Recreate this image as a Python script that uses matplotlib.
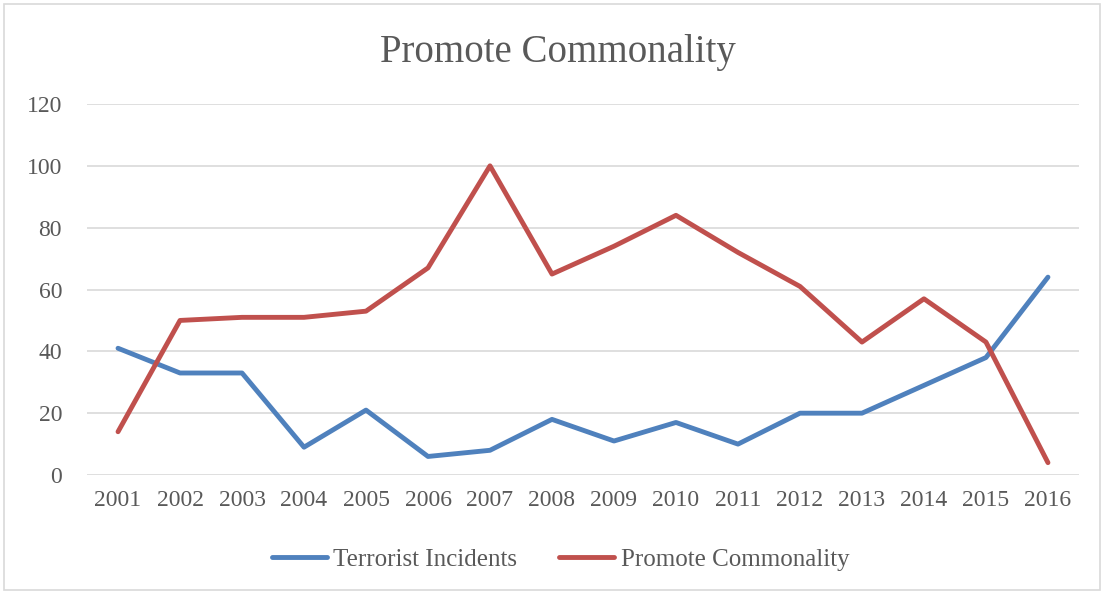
import matplotlib
matplotlib.use("Agg")
from matplotlib import pyplot as plt
from matplotlib.patches import Rectangle

years = ["2001", "2002", "2003", "2004", "2005", "2006", "2007", "2008",
         "2009", "2010", "2011", "2012", "2013", "2014", "2015", "2016"]
terrorist = [41, 33, 33, 9, 21, 6, 8, 18, 11, 17, 10, 20, 20, 29, 38, 64]
commonality = [14, 50, 51, 51, 53, 67, 100, 65, 74, 84, 72, 61, 43, 57, 43, 4]
y_ticks = [0, 20, 40, 60, 80, 100, 120]

text_col = "#595959"
plt.rcParams["font.family"] = ["Liberation Serif", "DejaVu Serif"]

fig = plt.figure(figsize=(11.03, 5.94), dpi=100)
ax = fig.add_axes([0.0789, 0.2003, 0.8993, 0.6246])

x = list(range(len(years)))
ax.plot(x, terrorist, color="#4F81BD", lw=3.5, solid_joinstyle="round",
        solid_capstyle="round", label="Terrorist Incidents")
ax.plot(x, commonality, color="#C0504D", lw=3.5, solid_joinstyle="round",
        solid_capstyle="round", label="Promote Commonality")

ax.set_xlim(-0.5, len(years) - 0.5)
ax.set_ylim(0, 120)
ax.set_yticks(y_ticks)
ax.set_xticks(x)
ax.set_xticklabels(years)
ax.grid(axis="y", color="#D9D9D9", lw=1.2)
ax.set_axisbelow(True)
for s in ax.spines.values():
    s.set_visible(False)
ax.tick_params(axis="both", length=0, colors=text_col, labelsize=17)
ax.tick_params(axis="x", pad=11)
ax.tick_params(axis="y", pad=18)

fig.text(0.506, 0.911, "Promote Commonality", ha="center", va="center",
         fontsize=28, color=text_col)

leg = fig.legend(loc="center", bbox_to_anchor=(0.508, 0.058), ncol=2,
                 frameon=False, fontsize=18, handlelength=2.2,
                 handletextpad=0.25, columnspacing=1.7)
for t in leg.get_texts():
    t.set_color(text_col)

fig.patches.append(Rectangle((0.004, 0.006), 0.993, 0.987, transform=fig.transFigure,
                             fill=False, edgecolor="#D9D9D9", lw=1.2))

fig.savefig("out.png", dpi=100)
